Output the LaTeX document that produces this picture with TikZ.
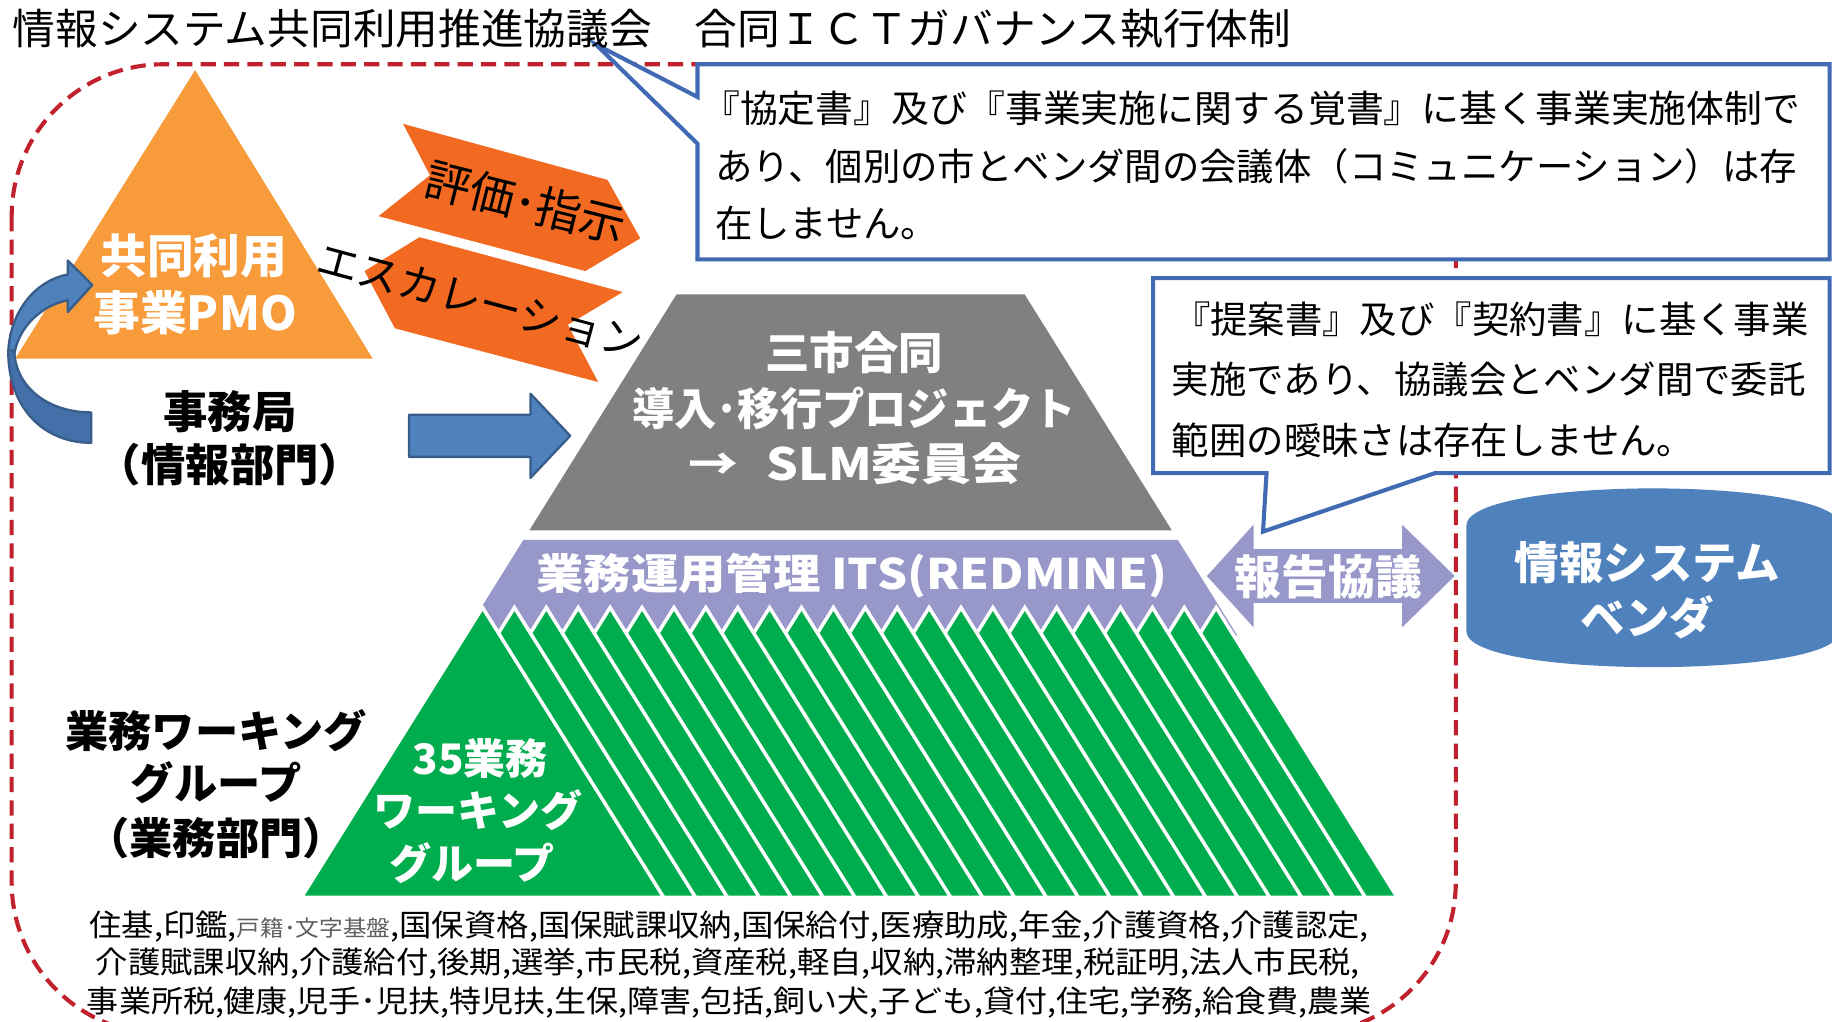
\documentclass[tikz,border=0pt]{standalone}
\usepackage{fontspec}
\setmainfont{Noto Sans CJK JP}
\usepackage{graphicx}
\definecolor{redline}{HTML}{C0212C}
\definecolor{orangeA}{HTML}{F79B3B}
\definecolor{orangeB}{HTML}{F26A22}
\definecolor{grayA}{HTML}{808080}
\definecolor{purpleA}{HTML}{9797C9}
\definecolor{greenA}{HTML}{00AD4E}
\definecolor{blueA}{HTML}{4F81BD}
\definecolor{blueB}{HTML}{385D8A}
\definecolor{blueC}{HTML}{4470AA}
\definecolor{callout}{HTML}{4169B4}
\newcommand{\fsz}[1]{\fontsize{#1}{#1}\selectfont}
\begin{document}
\begin{tikzpicture}[x=1pt,y=-1pt,
  lbl/.style={inner sep=0pt,outer sep=0pt},
  wbold/.style={lbl,text=white,font={\fsz{38}\bfseries}},
  kbold/.style={lbl,text=black,font={\fsz{37}\bfseries}},
  ctext/.style={lbl,anchor=west,text=black,font={\fsz{32}}},
  boxline/.style={draw=callout,line width=3.5pt,fill=white,line join=miter},
  blockarrow/.style={fill=blueA,draw=blueB,line width=2pt,line join=round},
  chevron/.style={fill=orangeB},
  stripe/.style={fill=greenA,draw=white,line width=3pt,line join=miter}]
\clip (0,0) rectangle (1568,874);
\fill[white] (0,0) rectangle (1568,874);

% red dashed frame
\draw[redline,line width=3.5pt,dash pattern=on 13pt off 7pt,rounded corners=130pt] (10,55) rectangle (1246,885);

% PMO triangle
\fill[orangeA] (167,60) -- (319,307) -- (13,307) -- cycle;
\node[wbold,font={\fsz{40}\bfseries}] (pmo1) at (166,219) {共同利用};
\node[wbold,font={\fsz{40}\bfseries}] (pmo2) at (167,268) {事業PMO};

% curved arrow
\filldraw[fill=blueA,draw=blueB,line width=2pt,line join=round] (7,305) .. controls (7,268) and (30,240) .. (58,235) -- (58,223) -- (79,244) -- (58,267) -- (58,257) .. controls (36,261) and (15,280) .. (12,305) -- cycle;
\filldraw[fill=blueC,draw=blueB,line width=2pt,line join=round] (7,300) .. controls (7,350) and (38,379) .. (78,379) -- (78,353) .. controls (45,353) and (14,335) .. (12,300) -- cycle;

% chevrons
\fill[chevron] (345,106) -- (520,154) -- (548,204) -- (501,232) -- (324,185) -- (368,150) -- cycle;
\fill[chevron] (359,203) -- (533,250) -- (486,278) -- (512,327) -- (338,281) -- (312,232) -- cycle;
\node[lbl,rotate=-14,font={\fsz{39}}] (hyoka) at (450,173) {評価･指示};
\node[lbl,rotate=-15,font={\fsz{36}}] (esc) at (411,258) {エスカレーション};

% gray trapezoid
\fill[grayA] (579,252) -- (877,252) -- (1003,454) -- (453,454) -- cycle;
\node[wbold] (proj1) at (731,302) {三市合同};
\node[wbold] (proj2) at (731,350) {\resizebox{380pt}{\height}{導入･移行プロジェクト}};
\node[wbold] (proj3) at (732,397) {\resizebox{285pt}{\height}{→\hspace{0.55em}SLM委員会}};

% block arrow
\filldraw[blockarrow] (350,355) -- (454,355) -- (454,337) -- (488,373) -- (454,409) -- (454,391) -- (350,391) -- cycle;
\node[kbold,font={\fsz{38}\bfseries}] (jimu1) at (197,352) {事務局};
\node[kbold,font={\fsz{38}\bfseries}] (jimu2) at (197,398) {（情報部門）};

% purple band
\fill[purpleA] (448,462) -- (1008,462) -- (1059,544) -- (397,544) -- cycle;

% green stripes
\foreach \k in {23,22,...,0}{
  \pgfmathsetmacro{\ax}{413+27.3*\k}
  \filldraw[stripe] (\ax,520) -- (\ax+155,768) -- (\ax-155,768) -- cycle;
}
\node[wbold,font={\fsz{36}\bfseries}] (its) at (729,493) {\resizebox{540pt}{\height}{業務運用管理 ITS(REDMINE)}};
\node[wbold,font={\fsz{36}\bfseries}] (wg1) at (411,649) {35業務};
\node[wbold,font={\fsz{36}\bfseries}] (wg2) at (409,693) {ワーキング};
\node[wbold,font={\fsz{36}\bfseries}] (wg3) at (404,739) {グループ};

\node[kbold] (bwg1) at (185,625) {業務ワーキング};
\node[kbold] (bwg2) at (185,670) {グループ};
\node[kbold] (bwg3) at (185,717) {（業務部門）};

% double arrow
\fill[purpleA] (1033,493) -- (1073,449) -- (1073,470) -- (1200,470) -- (1200,449) -- (1245,493) -- (1200,537) -- (1200,516) -- (1073,516) -- (1073,537) -- cycle;
\node[wbold,font={\fsz{40}\bfseries}] (hokoku) at (1137,494) {報告協議};

% vendor
\fill[blueA] (1255,450) .. controls (1255,428) and (1340,418) .. (1415,418) .. controls (1490,418) and (1575,428) .. (1575,450) -- (1575,540) .. controls (1575,562) and (1490,571) .. (1415,571) .. controls (1340,571) and (1255,562) .. (1255,540) -- cycle;
\node[wbold] (vend1) at (1410,482) {情報システム};
\node[wbold] (vend2) at (1410,528) {ベンダ};

% callouts
\filldraw[boxline] (597,55) -- (1566,55) -- (1566,222) -- (597,222) -- (597,123) -- (510,38) -- (597,83) -- cycle;
\node[ctext] (c1a) at (601,93) {\resizebox{940pt}{\height}{『協定書』及び『事業実施に関する覚書』に基く事業実施体制で}};
\node[ctext] (c1b) at (612,142) {あり、個別の市とベンダ間の会議体（コミュニケーション）は存};
\node[ctext] (c1c) at (612,191) {在しません。};

\filldraw[boxline] (987,238) -- (1566,238) -- (1566,405) -- (1228,405) -- (1081,455) -- (1084,405) -- (987,405) -- cycle;
\node[ctext] (c2a) at (1004,273) {『提案書』及び『契約書』に基く事業};
\node[ctext] (c2b) at (1003,325) {実施であり、協議会とベンダ間で委託};
\node[ctext] (c2c) at (1003,377) {範囲の曖昧さは存在しません。};

% title
\node[lbl,anchor=west,font={\fsz{36}}] (title) at (11,25) {\resizebox{1094pt}{\height}{情報システム共同利用推進協議会　合同ＩＣＴガバナンス執行体制}};

% bottom list
\node[lbl,font={\fsz{26}}] (list1) at (624,793) {\resizebox{1095pt}{\height}{住基,印鑑,{\color{gray!75!black}\fsz{19}戸籍･文字基盤},国保資格,国保賦課収納,国保給付,医療助成,年金,介護資格,介護認定,}};
\node[lbl,font={\fsz{26}}] (list2) at (623,825) {\resizebox{1082pt}{\height}{介護賦課収納,介護給付,後期,選挙,市民税,資産税,軽自,収納,滞納整理,税証明,法人市民税,}};
\node[lbl,font={\fsz{26}}] (list3) at (624,858) {\resizebox{1099pt}{\height}{事業所税,健康,児手･児扶,特児扶,生保,障害,包括,飼い犬,子ども,貸付,住宅,学務,給食費,農業}};
\end{tikzpicture}
\end{document}
